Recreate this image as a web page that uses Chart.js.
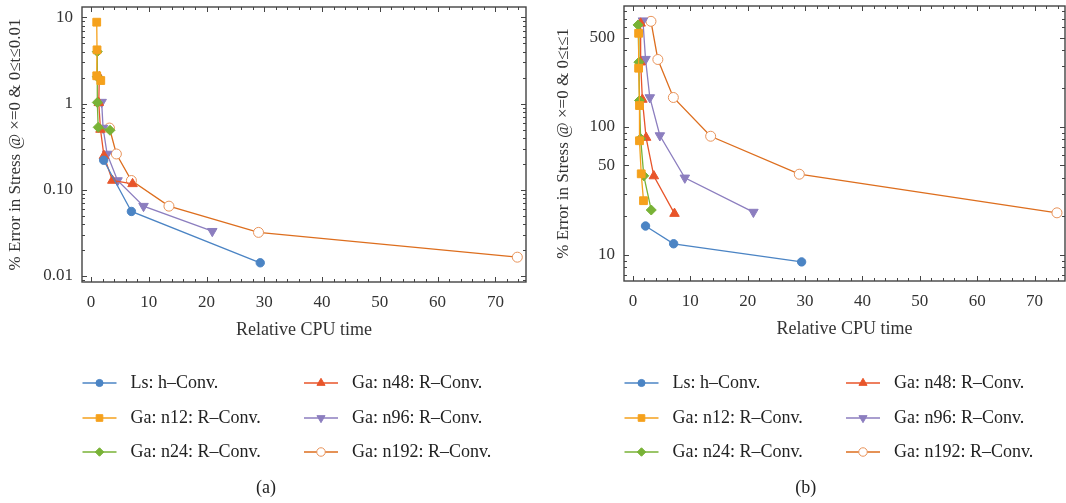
<!DOCTYPE html>
<html>
<head>
<meta charset="utf-8">
<script src="https://cdn.jsdelivr.net/npm/chart.js@4.4.1/dist/chart.umd.min.js"></script>
<style>
  html, body { margin: 0; padding: 0; background: #fff; }
  #wrap { position: relative; width: 1066px; height: 503px; }
  canvas { position: absolute; top: 0; }
  #chartA { left: 0; }
  #chartB { left: 533px; }
</style>
</head>
<body>
<div id="wrap">
  <canvas id="chartA" width="533" height="503"></canvas>
  <canvas id="chartB" width="533" height="503"></canvas>
</div>
<script>
// series names, shared by both panels
const seriesLabels = [
  'Ls: h\u2013Conv.',
  'Ga: n12: R\u2013Conv.',
  'Ga: n24: R\u2013Conv.',
  'Ga: n48: R\u2013Conv.',
  'Ga: n96: R\u2013Conv.',
  'Ga: n192: R\u2013Conv.'
];

// (a) error in stress at x=0, 0 <= t <= 0.01
const lsCpuA   = [2.2, 7.0, 29.3];
const lsErrA   = [0.22, 0.056, 0.0142];
const n12CpuA  = [1.0, 1.05, 1.0, 1.7];
const n12ErrA  = [8.8, 4.2, 2.1, 1.85];
const n24CpuA  = [1.1, 1.1, 1.1, 1.25, 3.3];
const n24ErrA  = [4.0, 2.05, 1.03, 0.53, 0.49];
const n48CpuA  = [1.45, 1.35, 1.65, 2.25, 3.7, 7.2];
const n48ErrA  = [2.04, 1.02, 0.5, 0.248, 0.128, 0.117];
const n96CpuA  = [1.85, 2.1, 2.8, 4.6, 9.1, 21.0];
const n96ErrA  = [1.04, 0.52, 0.26, 0.128, 0.0645, 0.033];
const n192CpuA = [3.2, 4.4, 7.0, 13.5, 29.0, 73.8];
const n192ErrA = [0.52, 0.26, 0.128, 0.0645, 0.032, 0.0165];

// (b) error in stress at x=0, 0 <= t <= 1
const lsCpuB   = [2.2, 7.1, 29.4];
const lsErrB   = [16.8, 12.2, 8.8];
const n12CpuB  = [1.0, 1.0, 1.15, 1.15, 1.45, 1.85];
const n12ErrB  = [540, 288, 147, 78, 43, 26.5];
const n24CpuB  = [0.9, 1.05, 1.15, 1.35, 1.9, 3.2];
const n24ErrB  = [628, 321, 161, 81, 41.5, 22.4];
const n48CpuB  = [1.35, 1.35, 1.65, 2.3, 3.65, 7.25];
const n48ErrB  = [646, 321, 164, 82.6, 41.3, 21.0];
const n96CpuB  = [1.75, 2.2, 2.95, 4.7, 9.05, 21.0];
const n96ErrB  = [678, 339, 170, 85.7, 40, 21.6];
const n192CpuB = [3.15, 4.35, 7.05, 13.55, 29.0, 73.9];
const n192ErrB = [670, 337, 170, 84.6, 42.7, 21.3];

// tick labels
const xTicks  = [0, 10, 20, 30, 40, 50, 60, 70];
const yTicksA = [0.01, 0.1, 1, 10];
const yTicksB = [10, 50, 100, 500];

const FAMILY = "'Liberation Serif', 'DejaVu Serif', serif";
const TICK_FONT = { family: FAMILY, size: 17 };
const TITLE_FONT = { family: FAMILY, size: 18 };
const INK = '#333';

const styles = [
  { line: '#4B84C4', fill: '#4B84C4', edge: '#4B84C4', shape: 'circle',   r: 4.2, rot: 0 },
  { line: '#F5A11C', fill: '#F5A11C', edge: '#F5A11C', shape: 'rect',     r: 5.5, rot: 0 },
  { line: '#78B236', fill: '#78B236', edge: '#78B236', shape: 'rectRot',  r: 5,   rot: 0 },
  { line: '#E8552A', fill: '#E8552A', edge: '#E8552A', shape: 'triangle', r: 5.5, rot: 0 },
  { line: '#8C7EBF', fill: '#8C7EBF', edge: '#8C7EBF', shape: 'triangle', r: 5.5, rot: 180 },
  { line: '#DD6E1E', fill: '#ffffff', edge: '#E8935A', shape: 'circle',   r: 5,   rot: 0 }
];

function makeDatasets(cpuLists, errLists) {
  return cpuLists.map((cpu, i) => {
    const s = styles[i];
    return {
      label: seriesLabels[i],
      data: cpu.map((x, k) => ({ x: x, y: errLists[i][k] })),
      showLine: true,
      borderColor: s.line,
      backgroundColor: s.fill,
      borderWidth: 1.3,
      pointStyle: s.shape,
      pointRadius: s.r,
      pointRotation: s.rot,
      pointBackgroundColor: s.fill,
      pointBorderColor: s.edge,
      pointBorderWidth: 1
    };
  });
}

function minorLogValues(min, max, majors) {
  const out = [];
  for (let e = Math.floor(Math.log10(min)); e <= Math.ceil(Math.log10(max)); e++) {
    for (let k = 1; k <= 9; k++) {
      const v = k * Math.pow(10, e);
      if (v >= min && v <= max && !majors.some(m => Math.abs(m - v) < v * 1e-6)) out.push(v);
    }
  }
  return out;
}

// frame with inward ticks on all sides, two-column legend and panel caption
const panelDecor = {
  id: 'panelDecor',
  afterDraw(chart, args, opts) {
    const { ctx, chartArea: a, scales } = chart;
    const xs = scales.x, ys = scales.y;
    ctx.save();

    ctx.strokeStyle = '#444';
    ctx.lineWidth = 1.4;
    ctx.strokeRect(a.left, a.top, a.right - a.left, a.bottom - a.top);

    ctx.lineWidth = 1;
    ctx.beginPath();
    const xMinor = [];
    for (let v = 0; v <= xs.max; v += 2) if (v % 10 !== 0) xMinor.push(v);
    const xTick = (v, len) => {
      const px = Math.round(xs.getPixelForValue(v)) + 0.5;
      ctx.moveTo(px, a.bottom); ctx.lineTo(px, a.bottom - len);
      ctx.moveTo(px, a.top); ctx.lineTo(px, a.top + len);
    };
    xTicks.forEach(v => xTick(v, 5));
    xMinor.forEach(v => xTick(v, 3));
    const yTick = (v, len) => {
      const py = Math.round(ys.getPixelForValue(v)) + 0.5;
      ctx.moveTo(a.left, py); ctx.lineTo(a.left + len, py);
      ctx.moveTo(a.right, py); ctx.lineTo(a.right - len, py);
    };
    opts.yMajor.forEach(v => yTick(v, 5));
    minorLogValues(ys.min, ys.max, opts.yMajor).forEach(v => yTick(v, 3));
    ctx.stroke();

    // legend
    const rows = [383, 418, 452];
    ctx.font = `${TITLE_FONT.size}px ${FAMILY}`;
    ctx.textBaseline = 'middle';
    chart.data.datasets.forEach((ds, i) => {
      const s = styles[i];
      const x0 = a.left + 0.5 + (i < 3 ? 0 : 221.5);
      const y0 = rows[i % 3];
      ctx.strokeStyle = s.line;
      ctx.lineWidth = 1.5;
      ctx.beginPath();
      ctx.moveTo(x0, y0); ctx.lineTo(x0 + 34, y0);
      ctx.stroke();
      ctx.fillStyle = s.fill;
      ctx.strokeStyle = s.edge;
      ctx.lineWidth = 1;
      Chart.helpers.drawPoint(ctx, {
        pointStyle: s.shape, radius: s.r * 0.85, rotation: s.rot, borderWidth: 1
      }, x0 + 17, y0);
      ctx.fillStyle = '#222';
      ctx.textAlign = 'left';
      ctx.fillText(ds.label, x0 + 48, y0);
    });

    ctx.textAlign = 'center';
    ctx.fillStyle = '#222';
    ctx.fillText(opts.caption, opts.captionX, 488);
    ctx.restore();
  }
};

function buildChart(id, cfg) {
  return new Chart(document.getElementById(id), {
    type: 'scatter',
    data: { datasets: cfg.datasets },
    options: {
      responsive: false,
      animation: false,
      layout: { padding: cfg.padding, autoPadding: false },
      plugins: {
        legend: { display: false },
        tooltip: { enabled: false },
        panelDecor: { caption: cfg.caption, captionX: cfg.captionX, yMajor: cfg.yMajor }
      },
      scales: {
        x: {
          type: 'linear', min: -1.55, max: 75.3,
          afterBuildTicks: s => { s.ticks = xTicks.map(v => ({ value: v })); },
          afterFit: s => { s.height = 60; s.paddingLeft = 0; s.paddingRight = 0; },
          grid: { display: false, drawTicks: false },
          border: { display: false },
          ticks: { font: TICK_FONT, color: INK, padding: 10, maxRotation: 0, autoSkip: false },
          title: { display: true, text: 'Relative CPU time', font: TITLE_FONT, color: INK, padding: { top: 0, bottom: 1 } }
        },
        y: {
          type: 'logarithmic', min: cfg.yMin, max: cfg.yMax,
          afterBuildTicks: s => { s.ticks = cfg.yMajor.map(v => ({ value: v })); },
          afterFit: s => { s.width = cfg.yWidth; s.paddingTop = 0; s.paddingBottom = 0; },
          grid: { display: false, drawTicks: false },
          border: { display: false },
          ticks: { font: TICK_FONT, color: INK, padding: 9, autoSkip: false, callback: cfg.yFormat },
          title: { display: true, text: cfg.yTitle, font: TICK_FONT, color: INK, padding: { top: cfg.yTitlePad, bottom: 0 } }
        }
      }
    },
    plugins: [panelDecor]
  });
}

buildChart('chartA', {
  datasets: makeDatasets(
    [lsCpuA, n12CpuA, n24CpuA, n48CpuA, n96CpuA, n192CpuA],
    [lsErrA, n12ErrA, n24ErrA, n48ErrA, n96ErrA, n192ErrA]),
  padding: { left: 0, right: 7, top: 7, bottom: 161 },
  yMin: 0.0085, yMax: 13.2, yMajor: yTicksA, yWidth: 82, yTitlePad: 5,
  yTitle: '% Error in Stress @ \u00d7=0 & 0\u2264t\u22640.01',
  yFormat: v => (v >= 1 ? String(v) : v.toFixed(2)),
  caption: '(a)', captionX: 266
});

buildChart('chartB', {
  datasets: makeDatasets(
    [lsCpuB, n12CpuB, n24CpuB, n48CpuB, n96CpuB, n192CpuB],
    [lsErrB, n12ErrB, n24ErrB, n48ErrB, n96ErrB, n192ErrB]),
  padding: { left: 0, right: 1, top: 6, bottom: 162 },
  yMin: 6.24, yMax: 883, yMajor: yTicksB, yWidth: 91, yTitlePad: 20,
  yTitle: '% Error in Stress @ \u00d7=0 & 0\u2264t\u22641',
  yFormat: v => String(v),
  caption: '(b)', captionX: 272.7
});
</script>
</body>
</html>
